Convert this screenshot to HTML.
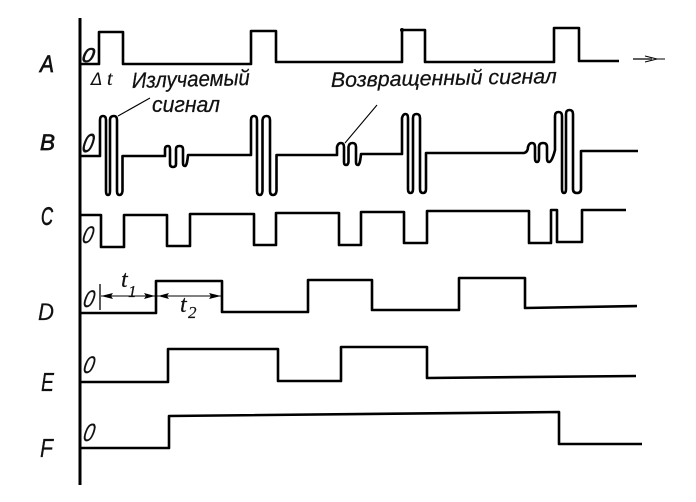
<!DOCTYPE html>
<html><head><meta charset="utf-8"><style>
html,body{margin:0;padding:0;background:#fff}
svg{display:block}
text{font-family:"Liberation Sans",sans-serif;font-style:italic;fill:#111}
.l{stroke:#111;stroke-width:.7}
.z{stroke:#111;stroke-width:.2}
.s{font-family:"Liberation Serif",serif;stroke:#111;stroke-width:.2}
.c{stroke:#111;stroke-width:.25}
.d{font-family:"DejaVu Sans",sans-serif;font-style:italic;font-weight:normal}
</style></head><body>
<svg width="696" height="502" viewBox="0 0 696 502" xmlns="http://www.w3.org/2000/svg">
<g fill="none" stroke="#000" stroke-width="2.6" stroke-linejoin="round" stroke-linecap="butt">
<path d="M80 18V485" stroke-width="3"/>
<path d="M81 64H99V32H123V64H251V31H276V62H402V30H425V62H554V28H579V61H619"/>
<path d="M633 59H652" stroke-width="1.2"/>
<path d="M645 56L657 59L645 62M657 59H665" stroke-width="1"/>
<path d="M81 156H100V120Q100 116 103 116Q106 116 106 120V191Q106 195 108 195Q110 195 110 191V120Q110 116 114 116Q117 116 117 120V191Q117 195 119.500 195Q122 195 122.500 191V156H165V149Q165 146 168 146Q170 146 170 149V164Q170 167 173 167Q176 167 176 164V149Q176 146 179.500 146Q183 146 183 149V163Q183 166 185 166Q187 166 188 155H251V120Q251 116 254 116Q257 116 257 120V191Q257 195 260 195Q262 195 262.500 191V120Q263 116 266.500 116Q270 116 270 120V191Q270 195 273 195Q276 195 276.500 191V155H337V147Q338 143 341 143Q344 143 344 147V162Q344 165 346 165Q348 165 348.500 162V147Q349 143 352.500 143Q356 143 356 147V162Q356 165 358 165Q360 165 361 154H402V118Q403 114 405.500 114Q408 114 408 118V189Q408 193 410.500 193Q413 193 413 189V118Q413 114 416.500 114Q420 114 420 118V189Q420 193 423 193Q426 193 426 189V153H524Q528 152 528 147Q529 143 532 143Q535 143 535 147V158Q535 162 537 162Q539 162 539 158V147Q539 143 543 143Q547 143 547 147V158Q547 162 549 162Q552 162 555 150V116Q555 112 558.500 112Q562 112 562 116V189Q562 193 564 193Q566 193 566 189V114Q566 110 569.500 110Q573 110 573 114V189Q573 193 577 193Q581 193 581 189V151H638"/>
<path d="M81 215H101V247H124V215H167V246H190V214H254V245H276V213H339V245H361V212H404V243H427V211H529V243H551V210H557V242H582V210H626"/>
<path d="M81 313H156V281H222V312H308V280H372V310H459V278H525V308L637 306"/>
<path d="M81 382H168V349H278V381H341V347H427V378L636 376"/>
<path d="M81 448H169V416L559 412V444H642"/>
<g stroke-width="1.1">
<path d="M118 116L150 98M345 143L377 105"/>
<path d="M100 284V310" stroke-width="1.3"/>
<path d="M101 296H221"/>
</g>
</g>
<g fill="#000" stroke="none">
<path d="M101 296L113 293L111 296L113 299ZM155 296L144 293L146 296L144 299ZM158 296L169 293L167 296L169 299ZM221 296L209 293L211 296L209 299Z"/>
<circle cx="402" cy="30" r="2"/>
</g>
<text class="l" x="40" y="72" font-size="24" textLength="14" lengthAdjust="spacingAndGlyphs">A</text>
<text class="l" x="40" y="150" font-size="22" textLength="15" lengthAdjust="spacingAndGlyphs">B</text>
<text class="l" x="41" y="225" font-size="25" textLength="12" lengthAdjust="spacingAndGlyphs">C</text>
<text class="z" x="38" y="320" font-size="24" textLength="16" lengthAdjust="spacingAndGlyphs">D</text>
<text class="z" x="41" y="391" font-size="26" textLength="13" lengthAdjust="spacingAndGlyphs">E</text>
<text class="z" x="40" y="457" font-size="26" textLength="13" lengthAdjust="spacingAndGlyphs">F</text>
<g>
<text class="l" transform="translate(81 62) skewX(-12)" font-size="20" textLength="12" lengthAdjust="spacingAndGlyphs">0</text>
<text class="l" transform="translate(81 152) skewX(-12)" font-size="26" textLength="11" lengthAdjust="spacingAndGlyphs">0</text>
<text class="z" transform="translate(81 243) skewX(-12)" font-size="24" textLength="11" lengthAdjust="spacingAndGlyphs">0</text>
<text class="z" transform="translate(82 307) skewX(-12)" font-size="24" textLength="11" lengthAdjust="spacingAndGlyphs">0</text>
<text class="z" transform="translate(82 373) skewX(-12)" font-size="24" textLength="11" lengthAdjust="spacingAndGlyphs">0</text>
<text class="z" transform="translate(82 441) skewX(-12)" font-size="25" textLength="11" lengthAdjust="spacingAndGlyphs">0</text>
</g>
<text class="d" x="91" y="85" font-size="17">Δ</text>
<text class="s" x="107" y="85" font-size="20">t</text>
<text class="c" x="132" y="88" font-size="22" textLength="118" lengthAdjust="spacingAndGlyphs" transform="rotate(-1.500 132 88)">Излучаемый</text>
<text class="c" x="152" y="112" font-size="22" textLength="68" lengthAdjust="spacingAndGlyphs">сигнал</text>
<text class="c" x="331" y="87" font-size="21" textLength="226" lengthAdjust="spacingAndGlyphs" transform="rotate(-1 331 87)">Возвращенный сигнал</text>
<text class="s" x="121" y="287" font-size="24">t</text>
<text class="s" x="128" y="297" font-size="17">1</text>
<text class="s" x="180" y="312" font-size="24">t</text>
<text class="s" x="188" y="318" font-size="17">2</text>
</svg>
</body></html>
